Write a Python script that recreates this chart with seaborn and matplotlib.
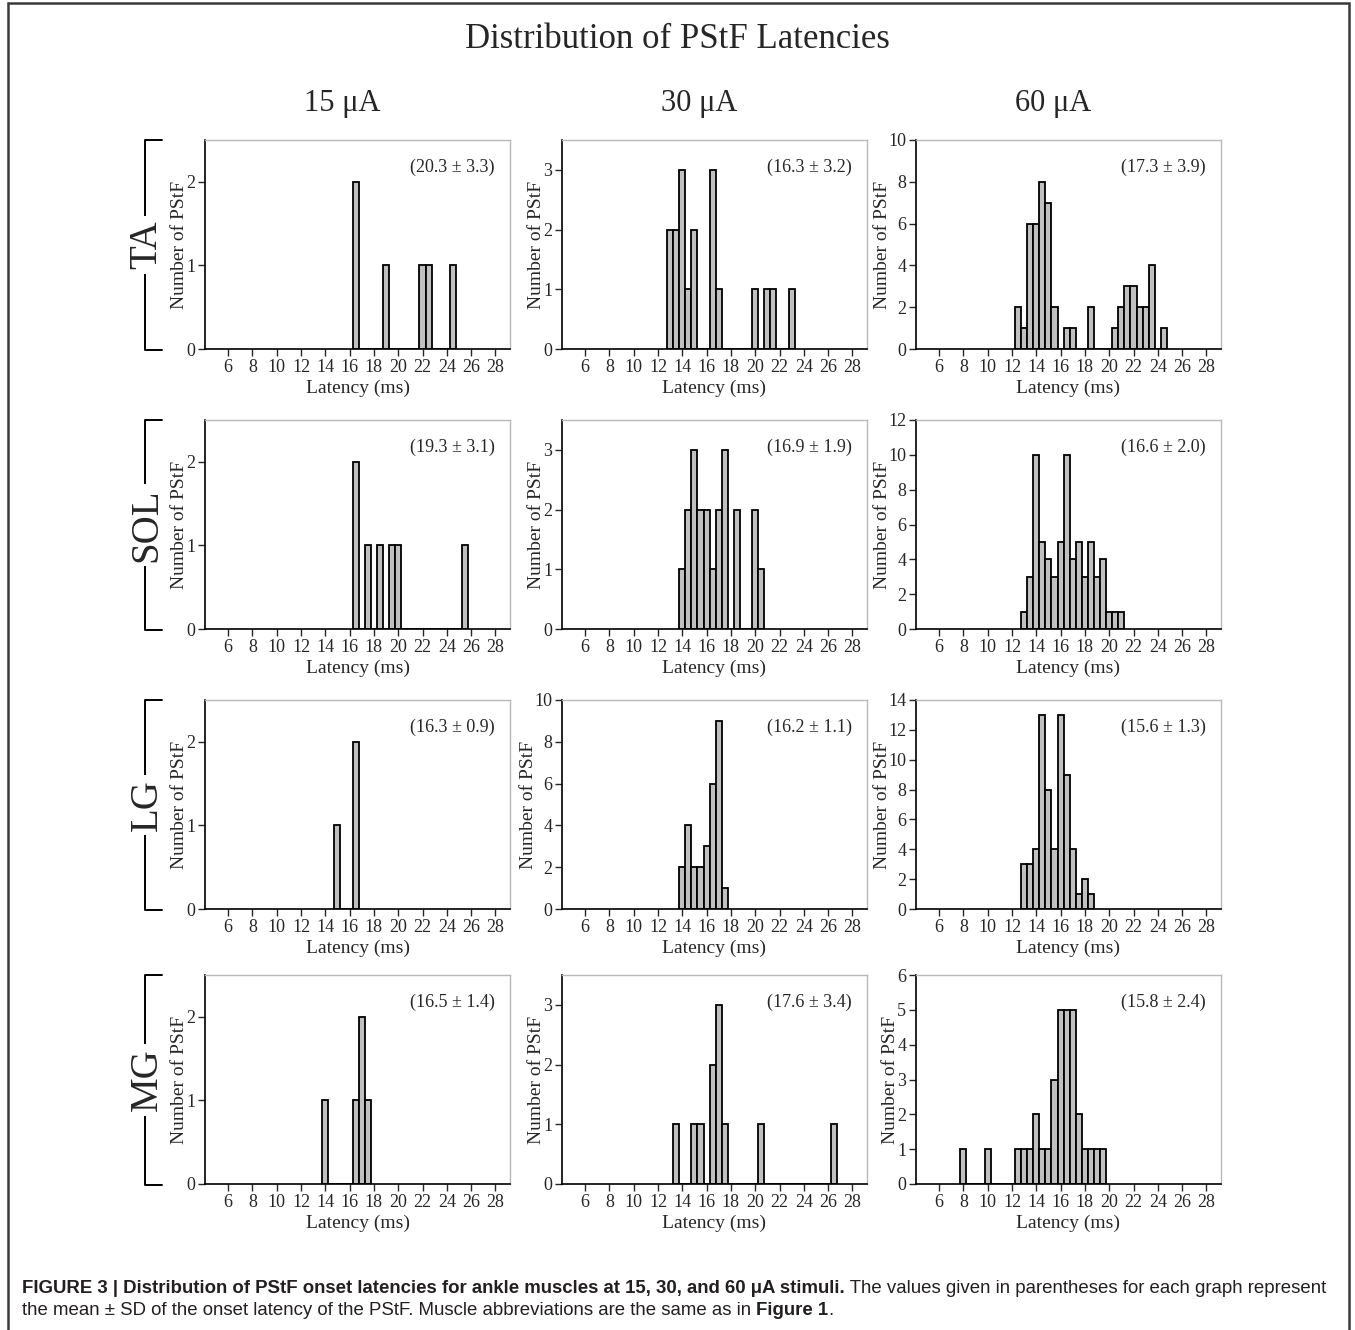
import numpy as np
import pandas as pd
import matplotlib
matplotlib.use('Agg')
import matplotlib.pyplot as plt
import seaborn as sns
from matplotlib.lines import Line2D
from matplotlib.patches import Rectangle

# bin centres (ms) and counts, 0.5 ms bins
ta15_ms = [16.5, 19.0, 22.0, 22.5, 24.5]
ta15_n = [2, 1, 1, 1, 1]
ta30_ms = [13.0, 13.5, 14.0, 14.5, 15.0, 16.5, 17.0, 20.0, 21.0, 21.5, 23.0]
ta30_n = [2, 2, 3, 1, 2, 3, 1, 1, 1, 1, 1]
ta60_ms = [12.5, 13.0, 13.5, 14.0, 14.5, 15.0, 15.5, 16.5, 17.0, 18.5,
           20.5, 21.0, 21.5, 22.0, 22.5, 23.0, 23.5, 24.5]
ta60_n = [2, 1, 6, 6, 8, 7, 2, 1, 1, 2, 1, 2, 3, 3, 2, 2, 4, 1]

sol15_ms = [16.5, 17.5, 18.5, 19.5, 20.0, 25.5]
sol15_n = [2, 1, 1, 1, 1, 1]
sol30_ms = [14.0, 14.5, 15.0, 15.5, 16.0, 16.5, 17.0, 17.5, 18.5, 20.0, 20.5]
sol30_n = [1, 2, 3, 2, 2, 1, 2, 3, 2, 2, 1]
sol60_ms = [13.0, 13.5, 14.0, 14.5, 15.0, 15.5, 16.0, 16.5, 17.0, 17.5,
            18.0, 18.5, 19.0, 19.5, 20.0, 20.5, 21.0]
sol60_n = [1, 3, 10, 5, 4, 3, 5, 10, 4, 5, 3, 5, 3, 4, 1, 1, 1]

lg15_ms = [15.0, 16.5]
lg15_n = [1, 2]
lg30_ms = [14.0, 14.5, 15.0, 15.5, 16.0, 16.5, 17.0, 17.5]
lg30_n = [2, 4, 2, 2, 3, 6, 9, 1]
lg60_ms = [13.0, 13.5, 14.0, 14.5, 15.0, 15.5, 16.0, 16.5, 17.0, 17.5, 18.0, 18.5]
lg60_n = [3, 3, 4, 13, 8, 4, 13, 9, 4, 1, 2, 1]

mg15_ms = [14.0, 16.5, 17.0, 17.5]
mg15_n = [1, 1, 2, 1]
mg30_ms = [13.5, 15.0, 15.5, 16.5, 17.0, 17.5, 20.5, 26.5]
mg30_n = [1, 1, 1, 2, 3, 1, 1, 1]
mg60_ms = [8.0, 10.0, 12.5, 13.0, 13.5, 14.0, 14.5, 15.0, 15.5, 16.0,
           16.5, 17.0, 17.5, 18.0, 18.5, 19.0, 19.5]
mg60_n = [1, 1, 1, 1, 1, 2, 1, 1, 3, 5, 5, 5, 2, 1, 1, 1, 1]

muscles = ['TA', 'SOL', 'LG', 'MG']
currents = ['15 μA', '30 μA', '60 μA']
ta_stats = ['(20.3 ± 3.3)', '(16.3 ± 3.2)', '(17.3 ± 3.9)']
sol_stats = ['(19.3 ± 3.1)', '(16.9 ± 1.9)', '(16.6 ± 2.0)']
lg_stats = ['(16.3 ± 0.9)', '(16.2 ± 1.1)', '(15.6 ± 1.3)']
mg_stats = ['(16.5 ± 1.4)', '(17.6 ± 3.4)', '(15.8 ± 2.4)']
x_ticks = list(range(6, 29, 2))

panels = [
    [(ta15_ms, ta15_n), (ta30_ms, ta30_n), (ta60_ms, ta60_n)],
    [(sol15_ms, sol15_n), (sol30_ms, sol30_n), (sol60_ms, sol60_n)],
    [(lg15_ms, lg15_n), (lg30_ms, lg30_n), (lg60_ms, lg60_n)],
    [(mg15_ms, mg15_n), (mg30_ms, mg30_n), (mg60_ms, mg60_n)],
]
stats = [ta_stats, sol_stats, lg_stats, mg_stats]
y_max = [[2.5, 3.5, 10], [2.5, 3.5, 12], [2.5, 10, 14], [2.5, 3.5, 6]]
y_step = [[1, 1, 2], [1, 1, 2], [1, 2, 2], [1, 1, 1]]

sns.set_style('ticks')
plt.rcParams['font.family'] = ['Liberation Serif', 'DejaVu Serif']

W, H = 1355, 1330
fig = plt.figure(figsize=(W / 100, H / 100), dpi=100)


def fx(px):
    return px / W


def fy(py):
    return 1 - py / H


# outer frame (bottom edge runs off the canvas)
fig.add_artist(Rectangle((fx(8), fy(1340)), fx(1341), 1337 / H,
                         transform=fig.transFigure, fill=False,
                         edgecolor='#3a3a3a', linewidth=1.8))

fig.text(0.5, fy(40), 'Distribution of PStF Latencies', ha='center', va='center',
         fontsize=25)

col_left = [205, 562, 916]
row_top = [140, 420, 700, 975]
ax_w, ax_h = 305, 209

for c, name in enumerate(currents):
    fig.text(fx(col_left[c] + ax_w / 2 - 15), fy(103), name, ha='center', va='center',
             fontsize=22)

for r, muscle in enumerate(muscles):
    top, bot = row_top[r], row_top[r] + ax_h + 1
    x0, x1 = fx(145), fx(162)
    # bracket and its label sit below the axes so the y label stays on top
    fig.add_artist(Line2D([x1, x0, x0, x1], [fy(top), fy(top), fy(bot), fy(bot)],
                          transform=fig.transFigure, color='black', linewidth=1.4,
                          zorder=-2))
    fig.text(fx(147), fy((top + bot) / 2), muscle, rotation=90, ha='center', va='center',
             fontsize=28, zorder=-1,
             bbox=dict(facecolor='white', edgecolor='none', pad=3))

    for c in range(3):
        ms, n = panels[r][c]
        df = pd.DataFrame({'latency': ms, 'count': n})
        ax = fig.add_axes([fx(col_left[c]), fy(row_top[r] + ax_h), fx(ax_w), ax_h / H])
        ax.patch.set_alpha(0)
        sns.histplot(data=df, x='latency', weights='count', binwidth=0.5,
                     binrange=(min(ms) - 0.25, max(ms) + 0.25), ax=ax,
                     color='#c0c0c0', edgecolor='black', linewidth=1.3, alpha=1)
        ax.set_xlim(4.1, 29.2)
        ax.set_ylim(0, y_max[r][c])
        ax.set_xticks(x_ticks)
        ax.set_yticks(np.arange(0, y_max[r][c] + 0.01, y_step[r][c]))
        ax.tick_params(labelsize=13, length=5, width=1, direction='out', pad=2)
        ax.set_xlabel('Latency (ms)', fontsize=14, labelpad=3)
        ax.set_ylabel('Number of PStF', fontsize=14)
        # label sits just clear of the widest tick label
        off = 17 if y_max[r][c] < 10 else 25
        ax.yaxis.set_label_coords(-off / ax_w, 0.5)
        for side in ['left', 'bottom']:
            ax.spines[side].set_linewidth(1.2)
            ax.spines[side].set_color('black')
        for side in ['top', 'right']:
            ax.spines[side].set_linewidth(1.0)
            ax.spines[side].set_color('#b8b8b8')
        ax.text(0.95, 0.87, stats[r][c], transform=ax.transAxes, ha='right', va='center',
                fontsize=13)

# caption, bold and regular runs placed one after another
cap_font = ['Liberation Sans', 'DejaVu Sans']
color = '#231f20'
renderer = fig.canvas.get_renderer()


def run(x, y, s, weight):
    t = fig.text(x, y, s, ha='left', va='baseline', fontsize=13.4, fontweight=weight,
                 family=cap_font, color=color)
    bb = t.get_window_extent(renderer=renderer)
    return x + bb.width / W


x = run(fx(22), fy(1293),
        'FIGURE 3 | Distribution of PStF onset latencies for ankle muscles at 15, 30, and 60 μA stimuli.',
        'bold')
run(x, fy(1293), ' The values given in parentheses for each graph represent', 'normal')
x = run(fx(22), fy(1315),
        'the mean ± SD of the onset latency of the PStF. Muscle abbreviations are the same as in ',
        'normal')
x = run(x, fy(1315), 'Figure 1', 'bold')
run(x, fy(1315), '.', 'normal')

fig.savefig('out.png', dpi=100)
